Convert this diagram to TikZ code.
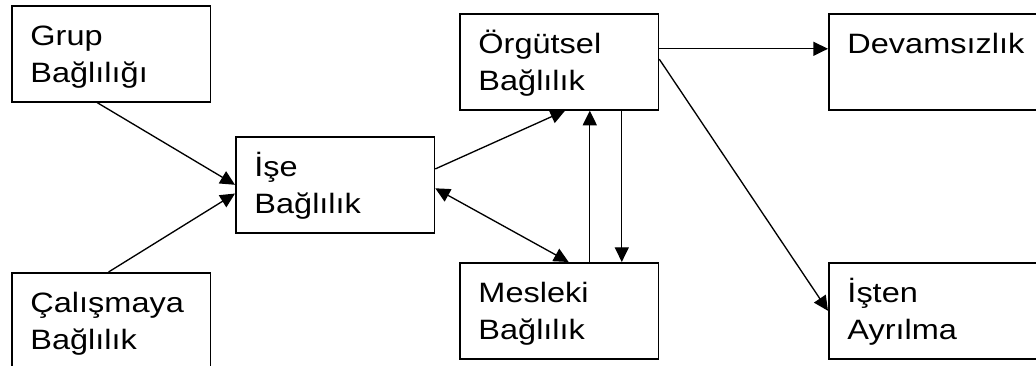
\documentclass[tikz,border=0pt]{standalone}
\usepackage{fontspec}
\setmainfont[FakeStretch=1.16]{Liberation Sans}
\usetikzlibrary{positioning,arrows.meta}
\tikzset{
  >={Triangle[length=11pt,width=10.5pt]},
  cbox/.style={draw,line width=1.2pt,anchor=north west,
               inner xsep=14pt,inner ysep=0pt,
               text width=121pt,align=left,
               text height=30pt,text depth=42pt,
               font=\fontsize{21pt}{27.4pt}\selectfont},
  wbox/.style={cbox,text width=131pt},
  arr/.style={->,line width=1pt},
  darr/.style={<->,line width=1pt},
}
\begin{document}
\begin{tikzpicture}[x=0.75pt,y=-0.75pt]
    \useasboundingbox (0,0) rectangle (1036,366);
    \node[cbox] (grp) at (11,5)    {Grup\\Bağlılığı};
    \node[cbox] (cal) at (11,272)  {Çalışmaya\\Bağlılık};
    \node[cbox] (ise) at (235,136) {İşe\\Bağlılık};
    \node[cbox] (org) at (459,13)  {Örgütsel\\Bağlılık};
    \node[cbox] (mes) at (459,262) {Mesleki\\Bağlılık};
    \node[wbox] (dev) at (828,13)  {Devamsızlık};
    \node[wbox] (ayr) at (828,262) {İşten\\Ayrılma};
    \draw[arr] (grp.254) -- (ise.180);
    \draw[arr] (cal.93) -- (ise.185);
    \draw[arr] (ise.9) -- (org.277);
    \draw[darr] (ise.-2) -- (mes.79);
    \draw[arr] ([xshift=23pt]mes.north) -- ([xshift=23pt]org.south);
    \draw[arr] ([xshift=47pt]org.south) -- ([xshift=47pt]mes.north);
    \draw[arr] ([yshift=9.75pt]org.east) -- ([yshift=9.75pt]dev.west);
    \draw[arr] ([yshift=2pt]org.east) -- (ayr.west);
\end{tikzpicture}
\end{document}
